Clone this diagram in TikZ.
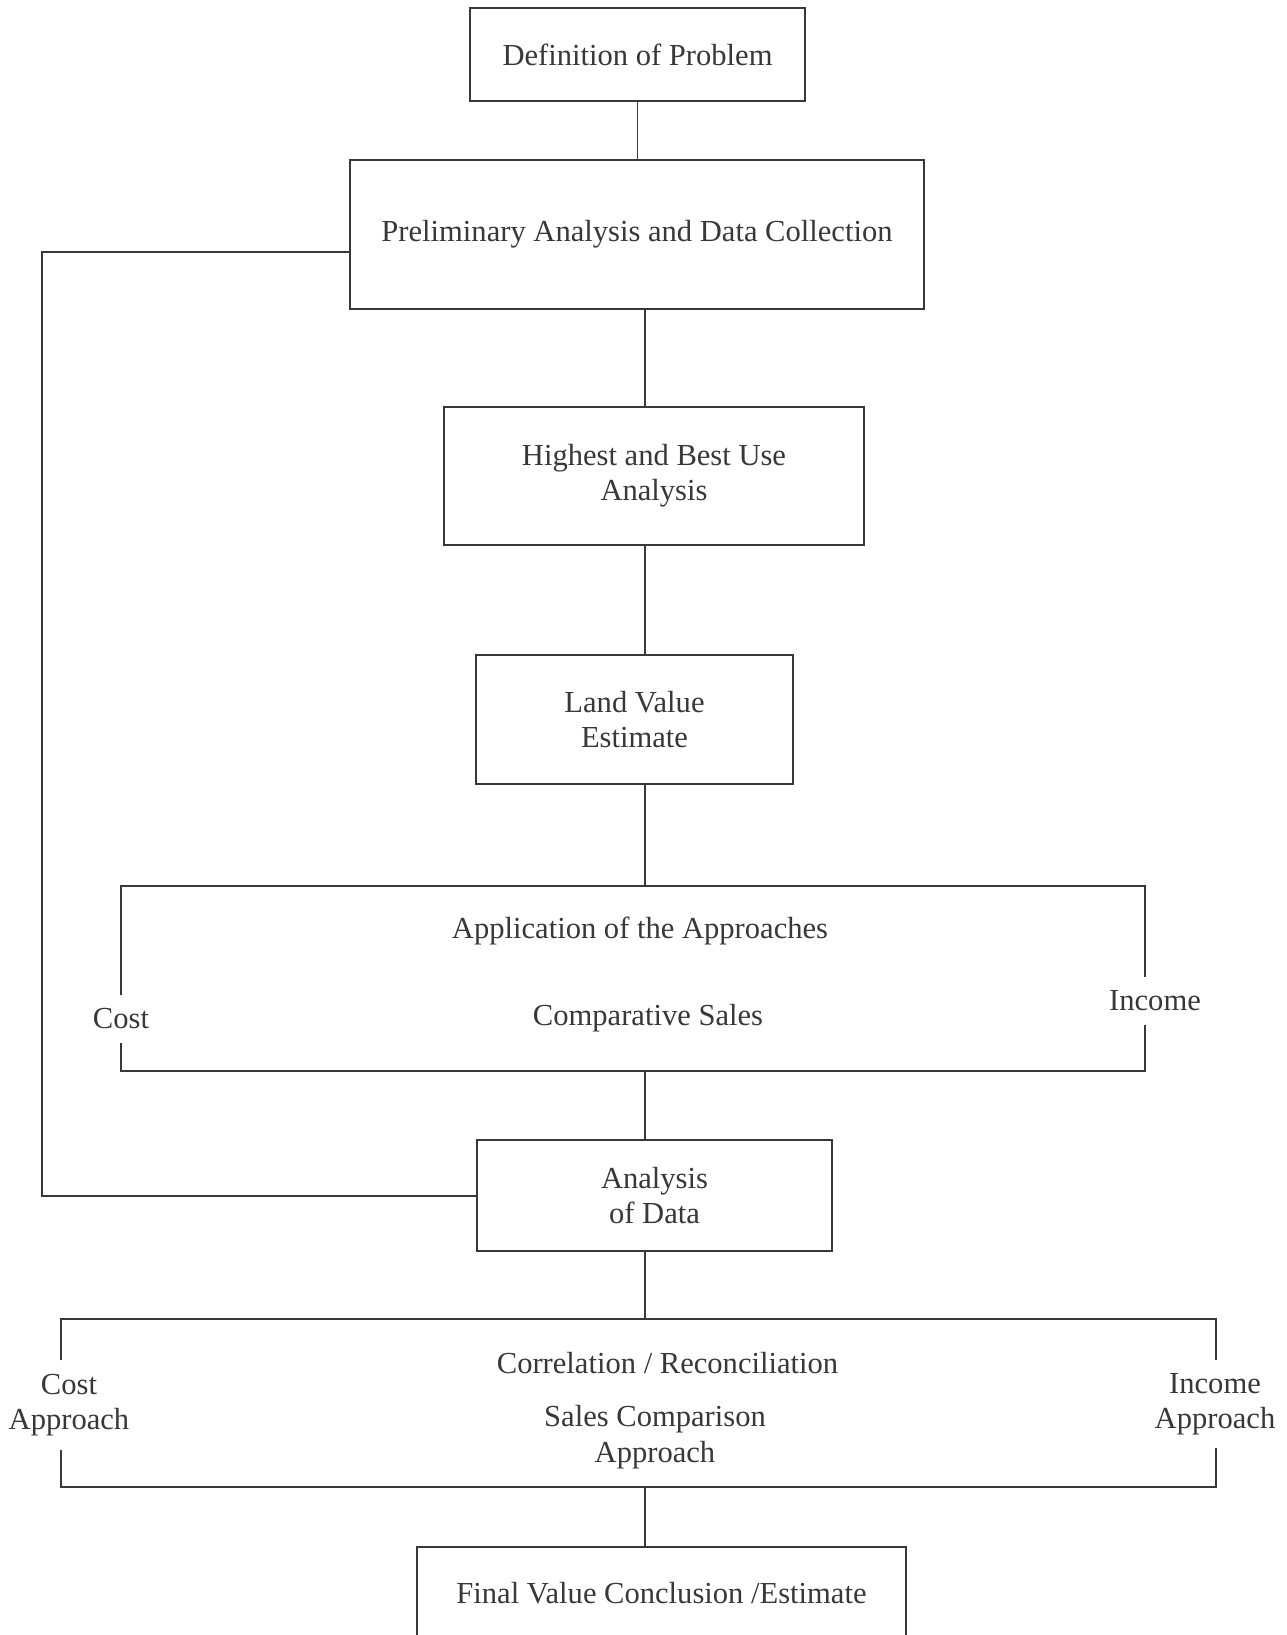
\documentclass[tikz,border=0pt]{standalone}
\usepackage{fontspec}
\setmainfont{Liberation Serif}
\usepackage{xcolor}
\usetikzlibrary{calc}

\definecolor{ink}{gray}{0.22}

\begin{document}
\begin{tikzpicture}[x=0.02cm,y=-0.02cm]
\tikzstyle{every node}=[font=\fontsize{17.4}{20.1}\selectfont,text=ink,align=center]
\tikzstyle{box}=[draw=ink,line width=1.1pt]
\tikzstyle{label}=[inner xsep=2pt,inner ysep=7.5pt]
\tikzstyle{link}=[draw=ink,line width=1pt]
\useasboundingbox[fill=white] (0,0) rectangle (1287,1635);

\coordinate (spine) at (645,0);

\node at (637.5,54.5) [box,minimum width=6.7cm,minimum height=1.86cm] (def) {Definition of Problem};
\node at (637,234.5) [box,minimum width=11.48cm,minimum height=2.98cm] (prelim) {Preliminary Analysis and Data Collection};
\node at (654,476) [box,minimum width=8.4cm,minimum height=2.76cm] (hbu) {Highest and Best Use\\Analysis};
\node at (634.5,719.5) [box,minimum width=6.34cm,minimum height=2.58cm] (land) {Land Value\\Estimate};

% application of the approaches
\coordinate (atl) at (121,886);
\coordinate (atr) at (1145,886);
\coordinate (abl) at (121,1071);
\coordinate (abr) at (1145,1071);
\node at (640,931) (appl) {Application of the Approaches};
\node at (648,1018) (comp) {Comparative Sales};
\node at (121,1019) [label] (cost) {Cost};
\node at (1155,1001) [label] (income) {Income};

\node at (654.5,1195.5) [box,minimum width=7.1cm,minimum height=2.22cm] (analysis) {Analysis\\of Data};

% correlation / reconciliation
\coordinate (ctl) at (61,1319);
\coordinate (ctr) at (1216,1319);
\coordinate (cbl) at (61,1487);
\coordinate (cbr) at (1216,1487);
\node at (667.5,1363) (corr) {Correlation / Reconciliation};
\node at (655,1437) (sales) {Sales Comparison\\Approach};
\node at (69,1405) [label] (costapp) {Cost\\Approach};
\node at (1215,1404) [label] (incapp) {Income\\Approach};

\node at (661.5,1593.5) [box,minimum width=9.78cm,minimum height=1.86cm] (final) {Final Value Conclusion /Estimate};

\path [link] (def.south) -- (def.south |- prelim.north);
\path [link] (prelim.south -| spine) -- (hbu.north -| spine);
\path [link] (hbu.south -| spine) -- (land.north -| spine);
\path [link] (land.south -| spine) -- (atl -| spine);

\path [link] (cost.north -| atl) -- (atl) -- (atr) -- (income.north -| atr);
\path [link] (cost.south -| abl) -- (abl) -- (abr) -- (income.south -| abr);

\path [link] (abl -| spine) -- (analysis.north -| spine);
\path [link] (analysis.south -| spine) -- (ctl -| spine);

\path [link] (costapp.north -| ctl) -- (ctl) -- (ctr) -- (incapp.north -| ctr);
\path [link] (costapp.south -| cbl) -- (cbl) -- (cbr) -- (incapp.south -| cbr);

\path [link] (cbl -| spine) -- (final.north -| spine);

% feedback loop
\coordinate (fbtop) at (42,252);
\coordinate (fbbot) at (42,1196);
\path [link,line width=0.8pt] (prelim.west |- fbtop) -- (fbtop) -- (fbbot) -- (analysis.west |- fbbot);

\end{tikzpicture}
\end{document}
